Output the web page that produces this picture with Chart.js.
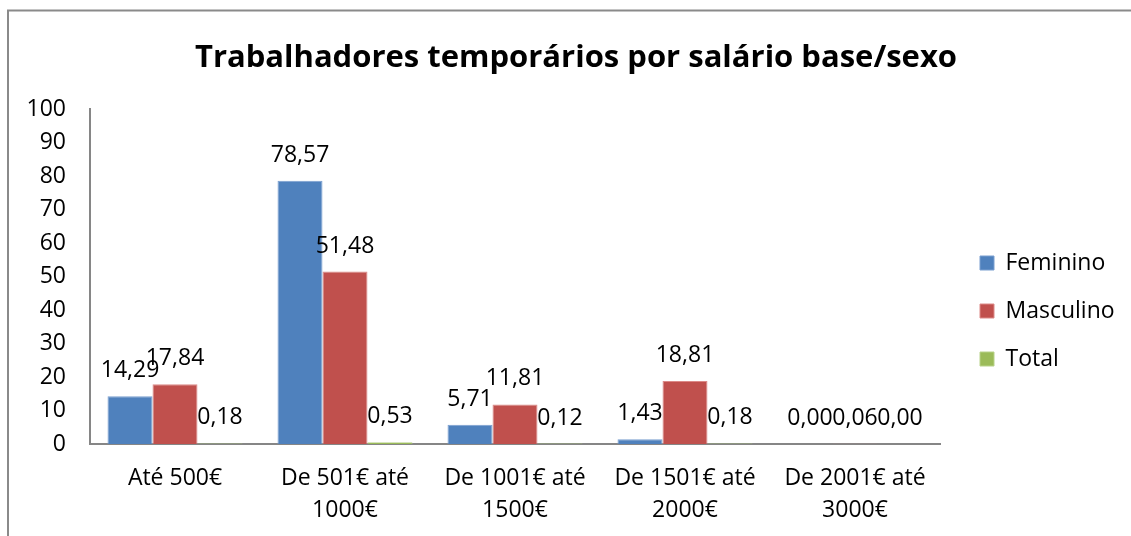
<!DOCTYPE html>
<html>
<head>
<meta charset="utf-8">
<script src="https://cdn.jsdelivr.net/npm/chart.js@4"></script>
<style>
  html, body { margin: 0; padding: 0; background: #ffffff; }
  #wrap { width: 1131px; height: 536px; position: relative; }
</style>
</head>
<body>
<div id="wrap"><canvas id="c" width="1131" height="536"></canvas></div>
<script>
const categories = [
  ["Até 500€"],
  ["De 501€ até", "1000€"],
  ["De 1001€ até", "1500€"],
  ["De 1501€ até", "2000€"],
  ["De 2001€ até", "3000€"]
];
const seriesNames = ["Feminino", "Masculino", "Total"];
const feminino = [14.29, 78.57, 5.71, 1.43, 0.00];
const masculino = [17.84, 51.48, 11.81, 18.81, 0.06];
const total = [0.18, 0.53, 0.12, 0.18, 0.00];
const yTicks = [0, 10, 20, 30, 40, 50, 60, 70, 80, 90, 100];
const titleText = "Trabalhadores temporários por salário base/sexo";

const FONT = "'Open Sans', 'Liberation Sans', sans-serif";
const FS = 23;

// measure widest legend text so the legend box is wide enough
const mctx = document.createElement('canvas').getContext('2d');
mctx.font = FS + "px " + FONT;
const widestLegend = Math.max(...seriesNames.map(s => mctx.measureText(s).width));
const LEG_PAD = 25;
const legendWidth = Math.ceil(LEG_PAD + 14 + FS / 2 + widestLegend + 4);
const legendLeft = 955;
const padRight = Math.max(0, 1131 - legendLeft - legendWidth);

const framePlugin = {
  id: 'frame',
  beforeDraw(chart) {
    const ctx = chart.ctx;
    ctx.save();
    ctx.fillStyle = '#ffffff';
    ctx.fillRect(0, 0, chart.width, chart.height);
    ctx.strokeStyle = '#8a8a8a';
    ctx.lineWidth = 2;
    ctx.beginPath();
    ctx.moveTo(8, 536);
    ctx.lineTo(8, 10.5);
    ctx.lineTo(1131, 10.5);
    ctx.stroke();
    // title
    ctx.fillStyle = '#000000';
    ctx.font = "bold 31px " + FONT;
    ctx.textAlign = 'center';
    ctx.textBaseline = 'alphabetic';
    ctx.fillText(titleText, 576, 67);
    ctx.restore();
  }
};

const labelPlugin = {
  id: 'valueLabels',
  afterDatasetsDraw(chart) {
    const ctx = chart.ctx;
    ctx.save();
    ctx.font = FS + "px " + FONT;
    ctx.fillStyle = '#000000';
    ctx.textAlign = 'center';
    ctx.textBaseline = 'alphabetic';
    chart.data.datasets.forEach((ds, di) => {
      const meta = chart.getDatasetMeta(di);
      meta.data.forEach((bar, i) => {
        const v = ds.data[i];
        const txt = v.toFixed(2).replace('.', ',');
        ctx.fillText(txt, bar.x, bar.y - 19);
      });
    });
    ctx.restore();
  }
};

new Chart(document.getElementById('c'), {
  type: 'bar',
  data: {
    labels: categories,
    datasets: [
      { label: seriesNames[0], data: feminino, backgroundColor: '#4F81BD', borderColor: '#7a9fd0', borderWidth: 1 },
      { label: seriesNames[1], data: masculino, backgroundColor: '#C0504D', borderColor: '#dc8a88', borderWidth: 1 },
      { label: seriesNames[2], data: total, backgroundColor: '#9BBB59', borderColor: '#b8d28a', borderWidth: 1 }
    ]
  },
  options: {
    responsive: false,
    animation: false,
    devicePixelRatio: 1,
    datasets: { bar: { categoryPercentage: 0.794, barPercentage: 1.0 } },
    layout: { padding: { top: 109, left: 0, right: padRight, bottom: 10 } },
    plugins: {
      title: { display: false },
      legend: {
        display: true,
        position: 'right',
        align: 'start',
        fullSize: false,
        maxWidth: legendWidth,
        title: { display: true, text: '', font: { size: 12, lineHeight: 1.2 }, padding: 51.55 },
        labels: {
          boxWidth: 14,
          boxHeight: 14,
          padding: LEG_PAD,
          color: '#000000',
          font: { family: FONT, size: FS }
        }
      },
      tooltip: { enabled: false }
    },
    scales: {
      x: {
        afterFit(scale) { scale.height = 82; },
        grid: { display: false, drawTicks: false },
        border: { display: true, color: '#868686', width: 2 },
        ticks: {
          color: '#000000',
          font: { family: FONT, size: FS, lineHeight: 32 / FS },
          padding: 18,
          maxRotation: 0,
          autoSkip: false
        }
      },
      y: {
        min: 0,
        max: 100,
        afterFit(scale) { scale.width = 90; },
        afterBuildTicks(scale) { scale.ticks = yTicks.map(v => ({ value: v })); },
        grid: { display: false, drawTicks: false },
        border: { display: true, color: '#868686', width: 2 },
        ticks: {
          color: '#000000',
          font: { family: FONT, size: FS },
          padding: 24,
          stepSize: 10
        }
      },
      spacer: {
        type: 'linear',
        position: 'right',
        display: true,
        afterFit(scale) { scale.width = 15; },
        grid: { display: false, drawTicks: false },
        border: { display: false },
        ticks: { display: false }
      }
    }
  },
  plugins: [framePlugin, labelPlugin]
});
</script>
</body>
</html>
